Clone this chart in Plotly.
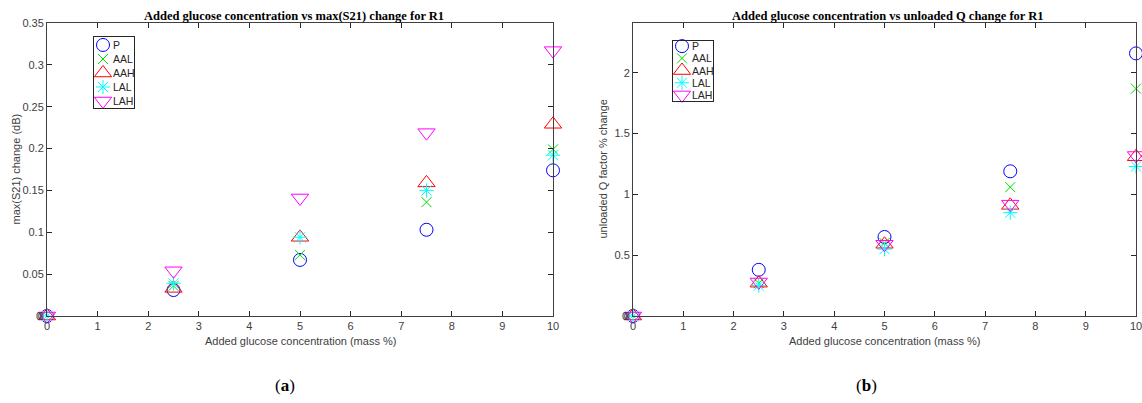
import plotly.graph_objects as go

conc = [0, 2.5, 5, 7.5, 10]
series_names = ["P", "AAL", "AAH", "LAL", "LAH"]

s21_P = [0, 0.031, 0.067, 0.103, 0.174]
s21_AAL = [0, 0.036, 0.073, 0.136, 0.199]
s21_AAH = [0, 0.033, 0.094, 0.159, 0.229]
s21_LAL = [0, 0.039, 0.094, 0.150, 0.192]
s21_LAH = [0, 0.054, 0.141, 0.219, 0.317]

q_P = [0, 0.38, 0.65, 1.19, 2.16]
q_AAL = [0, 0.27, 0.60, 1.06, 1.87]
q_AAH = [0, 0.27, 0.59, 0.91, 1.31]
q_LAL = [0, 0.25, 0.55, 0.85, 1.23]
q_LAH = [0, 0.28, 0.59, 0.92, 1.32]

x_ticks = list(range(0, 11))
s21_ticks = [0, 0.05, 0.1, 0.15, 0.2, 0.25, 0.3, 0.35]
s21_ticklabels = ["0", "0.05", "0.1", "0.15", "0.2", "0.25", "0.3", "0.35"]
q_ticks = [0, 0.5, 1, 1.5, 2]
q_ticklabels = ["0", "0.5", "1", "1.5", "2"]

x_title = "Added glucose concentration (mass %)"
y1_title = "max(S21) change (dB)"
y2_title = "unloaded Q factor % change"
title1 = "Added glucose concentration vs max(S21) change for R1"
title2 = "Added glucose concentration vs unloaded Q change for R1"

styles = {
    "P": dict(symbol="circle-open", color="#0000ff", size=13),
    "AAL": dict(symbol="x-thin-open", color="#00dd00", size=10),
    "AAH": dict(symbol="triangle-up-open", color="#ff0000", size=15),
    "LAL": dict(symbol="asterisk-open", color="#00ffff", size=12),
    "LAH": dict(symbol="triangle-down-open", color="#ff00ff", size=15),
}

s21 = [s21_P, s21_AAL, s21_AAH, s21_LAL, s21_LAH]
qv = [q_P, q_AAL, q_AAH, q_LAL, q_LAH]

W, H = 1142, 403
def px(x):
    return x / W
def py(y):
    return 1 - y / H

def marker(name):
    st = styles[name]
    return dict(symbol=st["symbol"], size=st["size"], color=st["color"],
                line=dict(color=st["color"], width=1))

fig = go.Figure()
for name, ys in zip(series_names, s21):
    fig.add_trace(go.Scatter(x=conc, y=ys, mode="markers", name=name, cliponaxis=False,
                             marker=marker(name), xaxis="x", yaxis="y", showlegend=False))
for name, ys in zip(series_names, qv):
    fig.add_trace(go.Scatter(x=conc, y=ys, mode="markers", name=name, cliponaxis=False,
                             marker=marker(name), xaxis="x2", yaxis="y2", showlegend=False))

# compact legends drawn in small inset axes (MATLAB-like legend boxes)
legend_idx = list(range(len(series_names)))
annotations = []
for xa, ya in (("x3", "y3"), ("x4", "y4")):
    for name, i in zip(series_names, legend_idx):
        fig.add_trace(go.Scatter(x=[9], y=[i], mode="markers", name=name, cliponaxis=False,
                                 marker=marker(name), xaxis=xa, yaxis=ya, showlegend=False,
                                 hoverinfo="skip"))
        annotations.append(dict(text=name, x=17, y=i, xref=xa, yref=ya, xanchor="left",
                                yanchor="middle", showarrow=False,
                                font=dict(family="Liberation Sans", size=10.5, color="#262626")))

tick_font = dict(family="Liberation Sans", size=11, color="#404040")
axis_common = dict(showgrid=False, zeroline=False, showline=True, linecolor="#404040", linewidth=1,
                   mirror="ticks", ticks="inside", ticklen=5, tickcolor="#262626", tickfont=tick_font,
                   automargin=False, ticklabeloverflow="allow")
title_font = dict(family="Liberation Sans", size=11, color="#404040")
legend_axis = dict(showgrid=False, zeroline=False, showline=True, linecolor="#262626", linewidth=1,
                   mirror=True, ticks="", showticklabels=False, fixedrange=True, automargin=False)

L1, R1, L2, R2, TOP, BOT = 47, 553, 633, 1136, 23, 316

# y-axis "0" labels (plotly hides the corner label)
for xa_left, yref in ((L1, "y"), (L2, "y2")):
    annotations.append(dict(text="0", x=px(xa_left - 3), y=0, xref="paper", yref=yref,
                            xanchor="right", yanchor="middle", showarrow=False, font=tick_font))

# axis titles
for lft, rgt, ytxt, ytx in ((L1, R1, y1_title, 16), (L2, R2, y2_title, 603)):
    annotations.append(dict(text=x_title, x=px((lft + rgt) / 2), y=py(341), xref="paper", yref="paper",
                            xanchor="center", yanchor="middle", showarrow=False, font=title_font))
    annotations.append(dict(text=ytxt, x=px(ytx), y=py((TOP + BOT) / 2), xref="paper", yref="paper",
                            xanchor="center", yanchor="middle", showarrow=False, textangle=-90,
                            font=title_font))

fig.update_layout(
    width=W, height=H,
    margin=dict(l=0, r=0, t=0, b=0),
    paper_bgcolor="white", plot_bgcolor="white",
    showlegend=False,
    xaxis=dict(domain=[px(L1), px(R1)], range=[0, 10], tickvals=x_ticks, anchor="y", **axis_common),
    yaxis=dict(domain=[py(BOT), py(TOP)], range=[0, 0.35], tickvals=s21_ticks, ticktext=s21_ticklabels,
               anchor="x", **axis_common),
    xaxis2=dict(domain=[px(L2), px(R2)], range=[0, 10], tickvals=x_ticks, anchor="y2", **axis_common),
    yaxis2=dict(domain=[py(BOT), py(TOP)], range=[0, 2.41], tickvals=q_ticks, ticktext=q_ticklabels,
                anchor="x2", **axis_common),
    xaxis3=dict(domain=[px(94), px(134)], range=[0, 40], anchor="y3", **legend_axis),
    yaxis3=dict(domain=[py(108), py(37)], range=[4.5, -0.57], anchor="x3", **legend_axis),
    xaxis4=dict(domain=[px(673), px(713)], range=[0, 40], anchor="y4", **legend_axis),
    yaxis4=dict(domain=[py(101), py(41)], range=[4.5, -0.42], anchor="x4", **legend_axis),
    annotations=annotations + [
        dict(text="<b>" + title1 + "</b>", x=px(294),
             y=py(16), xref="paper", yref="paper", showarrow=False, xanchor="center", yanchor="middle",
             font=dict(family="Liberation Serif", size=12.5, color="black")),
        dict(text="<b>" + title2 + "</b>", x=px(888),
             y=py(16), xref="paper", yref="paper", showarrow=False, xanchor="center", yanchor="middle",
             font=dict(family="Liberation Serif", size=12.5, color="black")),
        dict(text="(<b>a</b>)", x=px(285), y=py(385), xref="paper", yref="paper", showarrow=False,
             xanchor="center", yanchor="middle",
             font=dict(family="Liberation Serif", size=17, color="black")),
        dict(text="(<b>b</b>)", x=px(866), y=py(385), xref="paper", yref="paper", showarrow=False,
             xanchor="center", yanchor="middle",
             font=dict(family="Liberation Serif", size=17, color="black")),
    ],
)

fig.write_html("out.html", config={"displayModeBar": False},
               post_script="document.body.style.margin='0';")
